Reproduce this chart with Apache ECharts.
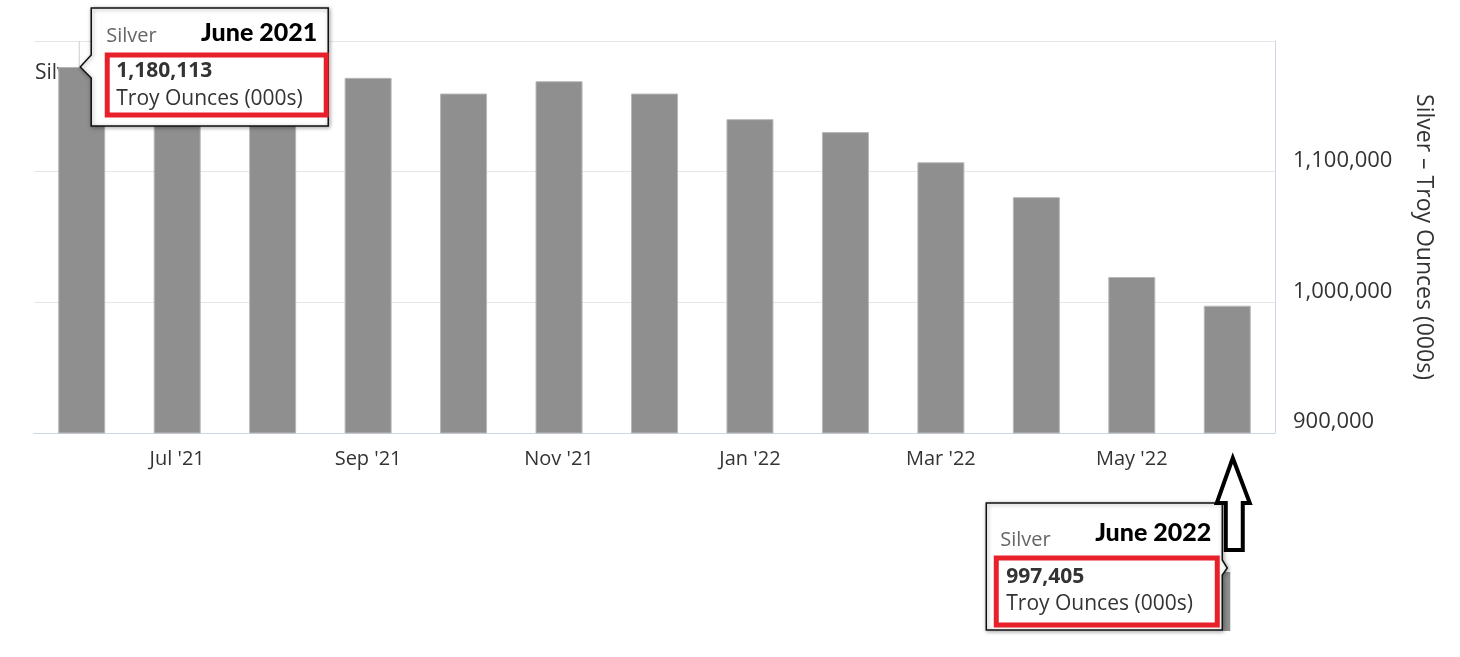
<!DOCTYPE html>
<html>
<head>
<meta charset="utf-8">
<title>Silver - Troy Ounces (000s)</title>
<script src="https://cdn.jsdelivr.net/npm/echarts@6/dist/echarts.min.js"></script>
<style>
  html, body { margin: 0; padding: 0; background: #fff; }
  #chart { width: 1460px; height: 657px; }
</style>
</head>
<body>
<div id="chart"></div>
<script>
// Silver stocks, monthly, Jun 2021 - Jun 2022

// Data (Jul/Aug '21 are hidden under the callout, estimated)
const months = ["Jun '21", "Jul '21", "Aug '21", "Sep '21", "Oct '21", "Nov '21", "Dec '21",
                "Jan '22", "Feb '22", "Mar '22", "Apr '22", "May '22", "Jun '22"];
const silver = [1180113, 1170000, 1165000, 1171800, 1159800, 1169200, 1159800,
                1140200, 1130300, 1107200, 1080500, 1019400, 997405];
const yTicks = [900000, 1000000, 1100000, 1200000];

const calloutFirst = { title: 'June 2021', series: 'Silver', unit: 'Troy Ounces (000s)' };
const calloutLast = { title: 'June 2022', series: 'Silver', unit: 'Troy Ounces (000s)' };

const FONT = '"Open Sans", "Noto Sans", sans-serif';
const TEXT = '#333333';

const chart = echarts.init(document.getElementById('chart'));

function fmt(v) {
    return v.toLocaleString('en-US');
}

chart.setOption({
    animation: false,
    grid: { left: 34, right: 185, top: 41, bottom: 224, containLabel: false },
    xAxis: {
        type: 'category',
        data: months,
        axisLine: { lineStyle: { color: '#ccd6eb', width: 1 } },
        axisTick: {
            alignWithLabel: true,
            interval: (i) => i % 2 === 1,
            length: 9,
            lineStyle: { color: '#ccd6eb' }
        },
        axisLabel: {
            interval: (i) => i % 2 === 1,
            margin: 16,
            color: TEXT,
            fontFamily: FONT,
            fontSize: 20
        }
    },
    yAxis: {
        type: 'value',
        position: 'right',
        min: yTicks[0],
        max: yTicks[yTicks.length - 1],
        interval: 100000,
        name: 'Silver \u2013 Troy Ounces (000s)',
        nameLocation: 'middle',
        nameRotate: -90,
        nameGap: 137,
        nameTextStyle: { color: TEXT, fontFamily: FONT, fontSize: 23 },
        axisLine: { show: true, lineStyle: { color: '#ccd6eb' } },
        axisTick: { show: false },
        splitLine: { lineStyle: { color: '#e6e6e6' } },
        axisLabel: {
            showMaxLabel: false,
            margin: 18,
            color: TEXT,
            fontFamily: FONT,
            fontSize: 22,
            verticalAlign: 'bottom',
            formatter: (v) => fmt(v)
        }
    },
    series: [{
        name: 'Silver',
        type: 'bar',
        z: 2,
        data: silver,
        barWidth: 47,
        itemStyle: { color: '#8e8f8e', borderColor: '#b8b8b8', borderWidth: 1 }
    }]
});

// Annotations anchored to the first and last bars
function buildCallouts() {
    const p1 = chart.convertToPixel({ seriesIndex: 0 }, [0, silver[0]]);
    const pN = chart.convertToPixel({ seriesIndex: 0 }, [silver.length - 1, silver[silver.length - 1]]);
    const yTop = chart.convertToPixel({ yAxisIndex: 0 }, yTicks[yTicks.length - 1]);
    const yBase = chart.convertToPixel({ yAxisIndex: 0 }, yTicks[0]);

    const els = [];

    // legend-ish label sitting behind the first bar and the callout
    els.push({
        type: 'text', z: 0,
        style: { text: 'Silver', x: 35, y: p1[1] + 6, fill: TEXT, font: '21px ' + FONT,
                 textVerticalAlign: 'middle', verticalAlign: 'middle' }
    });
    // crosshair
    els.push({
        type: 'line', z: 0,
        shape: { x1: p1[0] - 2.5, y1: yTop, x2: p1[0] - 2.5, y2: p1[1] },
        style: { stroke: '#cccccc', lineWidth: 1 }
    });

    // --- first callout (June 2021)
    const tx = p1[0] - 1.5, ty = p1[1];
    const L = tx + 11, R = tx + 248, T = ty - 59, B = ty + 59;
    els.push({
        type: 'polygon', z: 100,
        shape: { points: [[L, T], [R, T], [R, B], [L, B], [L, ty + 11], [tx, ty], [L, ty - 12]] },
        style: { fill: '#fff', stroke: '#111', lineWidth: 1.5, shadowBlur: 4, shadowOffsetX: 1,
                 shadowOffsetY: 1, shadowColor: 'rgba(0,0,0,0.35)' }
    });
    els.push(textEl(calloutFirst.series, L + 15, T + 28, '#666666', '20px ' + FONT, 'left'));
    els.push(textEl(calloutFirst.title, L + 226, T + 25, '#000', '900 25px Lato, ' + FONT, 'right'));
    els.push({
        type: 'rect', z: 102,
        shape: { x: L + 16, y: T + 47, width: 219, height: 60 },
        style: { fill: 'none', stroke: '#e8202a', lineWidth: 5 }
    });
    els.push(textEl(fmt(silver[0]), L + 25, T + 63, TEXT, 'bold 21px ' + FONT, 'left'));
    els.push(textEl(calloutFirst.unit, L + 25, T + 91, TEXT, '21px ' + FONT, 'left'));

    // --- last callout (June 2022), drawn below the axis
    const bx = pN[0], by = yBase + 135;
    const L2 = bx - 241, R2 = bx - 5, T2 = by - 65, B2 = by + 62;
    els.push({
        type: 'rect', z: 90,
        shape: { x: bx - 5, y: by + 4, width: 8, height: 59 },
        style: { fill: '#8e8f8e' }
    });
    els.push({
        type: 'polygon', z: 100,
        shape: { points: [[L2, T2], [R2, T2], [R2, by - 8], [bx, by], [R2, by + 7], [R2, B2], [L2, B2]] },
        style: { fill: '#fff', stroke: '#111', lineWidth: 1.5, shadowBlur: 4, shadowOffsetX: 1,
                 shadowOffsetY: 1, shadowColor: 'rgba(0,0,0,0.35)' }
    });
    els.push(textEl(calloutLast.series, L2 + 14, T2 + 37, '#666666', '20px ' + FONT, 'left'));
    els.push(textEl(calloutLast.title, L2 + 225, T2 + 30, '#000', '900 25px Lato, ' + FONT, 'right'));
    els.push({
        type: 'rect', z: 102,
        shape: { x: L2 + 10, y: T2 + 55, width: 221, height: 67 },
        style: { fill: 'none', stroke: '#e8202a', lineWidth: 5 }
    });
    els.push(textEl(fmt(silver[silver.length - 1]), L2 + 20, T2 + 74, TEXT, 'bold 21px ' + FONT, 'left'));
    els.push(textEl(calloutLast.unit, L2 + 20, T2 + 101, TEXT, '21px ' + FONT, 'left'));

    // hollow up arrow pointing at the last month
    const ax = bx + 5.5, ay = yBase + 25;
    els.push({
        type: 'polygon', z: 110,
        shape: { points: [[ax, ay], [ax + 17, ay + 45], [ax + 10, ay + 45], [ax + 10, ay + 92],
                          [ax - 7, ay + 92], [ax - 7, ay + 45], [ax - 16, ay + 45]] },
        style: { fill: '#fff', stroke: '#000', lineWidth: 4, lineJoin: 'miter' }
    });

    chart.setOption({ graphic: { elements: els } });
}

function textEl(text, x, y, fill, font, align) {
    return {
        type: 'text', z: 105,
        style: { text: text, x: x, y: y, fill: fill, font: font,
                 textAlign: align, align: align,
                 textVerticalAlign: 'middle', verticalAlign: 'middle' }
    };
}

buildCallouts();

window.addEventListener('resize', function() {
    chart.resize();
    buildCallouts();
});
</script>
</body>
</html>
